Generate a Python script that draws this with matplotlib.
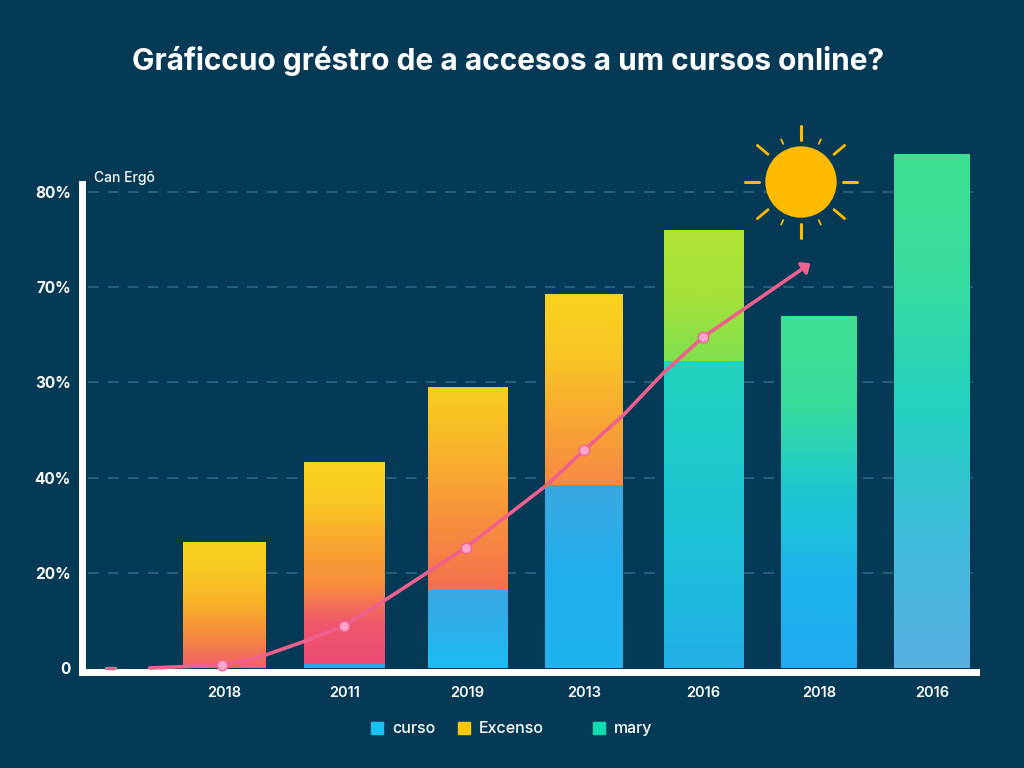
import numpy as np
import matplotlib
matplotlib.use('Agg')
import matplotlib.pyplot as plt
from matplotlib.colors import LinearSegmentedColormap
from matplotlib.patches import Circle, Rectangle

years = ['2018', '2011', '2019', '2013', '2016', '2018', '2016']
bar_pos = [0, 1.02, 2.06, 3.05, 4.06, 5.04, 6.0]
bar_width = [0.695, 0.686, 0.67, 0.66, 0.67, 0.644, 0.636]
lower_vals = [0, 0.8, 16.4, 38.5, 64.4, 74, 108]
total_vals = [26.5, 43.2, 59, 78.5, 92, 74, 108]

y_ticks = [0, 20, 40, 60, 80, 100]
y_labels = ['0', '20%', '40%', '30%', '70%', '80%']

line_x = [-0.63, -0.02, 0.28, 0.67, 1.02, 1.30, 1.69, 2.05, 2.75, 3.05, 3.38, 3.73, 4.06, 4.97]
line_y = [0, 0.6, 2.1, 5.5, 8.8, 13.2, 19.5, 25.3, 38.7, 45.7, 53, 62.1, 69.5, 85]
dot_idx = [1, 4, 7, 9, 12]

# gradient stops, bottom to top
upper_colors = [
    ['#f0606a', '#f58a3e', '#f8b02a', '#f8c824', '#f8d21e'],
    ['#ec4a74', '#f0586c', '#f78f3c', '#f8a530', '#f9c824', '#f9d31d'],
    ['#f5704f', '#f78f3d', '#f9b22d', '#f8cf20'],
    ['#f78a45', '#f8a633', '#f9c525', '#f8d21e'],
    ['#7fe04e', '#a6e23a', '#b0e234'],
    None,
    None,
]
lower_colors = [
    None,
    ['#2aa8e8', '#2aa8e8'],
    ['#1cbcf2', '#2db0ea', '#3aa8e0'],
    ['#1eb4f0', '#22b0ee', '#3aa8e0'],
    ['#22b0e8', '#1cc4d4', '#20d4bc'],
    ['#1eaaf0', '#1eb4ee', '#1cc8d0', '#38dc9c', '#40e092'],
    ['#58b0e0', '#40bcdc', '#24d0c0', '#38dca0', '#40e090'],
]

bg = '#043a56'
pink = '#f0608f'
white = '#ffffff'
sun_color = '#ffbb00'
font = ['Inter', 'DejaVu Sans']


def gradient_bar(ax, x, w, y0, y1, colors):
    bar = ax.bar(x, y1 - y0, width=w, bottom=y0, color='none', linewidth=0, zorder=2)[0]
    cmap = LinearSegmentedColormap.from_list('seg', colors)
    grad = np.linspace(0, 1, 256).reshape(-1, 1)
    im = ax.imshow(grad, cmap=cmap, origin='lower', aspect='auto', zorder=2,
                   extent=[x - w / 2, x + w / 2, y0, y1])
    im.set_clip_path(bar)


plt.rcParams['font.family'] = font
fig = plt.figure(figsize=(10.24, 7.68), dpi=100, facecolor=bg)
ax = fig.add_axes([82 / 1024, 1 - 672 / 768, (980 - 82) / 1024, (672 - 140) / 768], facecolor=bg)

for i in range(len(years)):
    if lower_colors[i] is not None and lower_vals[i] > 0:
        gradient_bar(ax, bar_pos[i], bar_width[i], 0, lower_vals[i], lower_colors[i])
    if upper_colors[i] is not None:
        gradient_bar(ax, bar_pos[i], bar_width[i], lower_vals[i], total_vals[i], upper_colors[i])

ax.set_xlim(-1.203, 6.407)
ax.set_ylim(-0.84, 110.9)

for t in y_ticks[1:]:
    ax.plot([-1.15, 6.36], [t, t], color='#2a6480', lw=1.3, dashes=(6, 5), zorder=1)

# trend line
ax.plot([-1.0, -0.92], [0, 0], color=pink, lw=2.5, zorder=3, solid_capstyle='round')
ax.plot(line_x[:-1], line_y[:-1], color=pink, lw=2.6, zorder=3, solid_capstyle='round')
ax.annotate('', xy=(line_x[-1], line_y[-1]), xytext=(line_x[-2], line_y[-2]), zorder=3,
            arrowprops=dict(arrowstyle='-|>,head_width=0.4,head_length=0.45', color=pink,
                            lw=2.6, shrinkA=0, shrinkB=0))
ax.plot([line_x[i] for i in dot_idx], [line_y[i] for i in dot_idx], 'o', ms=7.5,
        mfc='#ffa6cc', mec=pink, mew=1, zorder=4)

ax.set_xticks(bar_pos)
ax.set_xticklabels(years, fontsize=10.5, fontweight='semibold', color=white)
ax.set_yticks(y_ticks)
ax.set_yticklabels(y_labels, fontsize=11, fontweight='bold', color=white)
ax.tick_params(axis='both', length=0)
ax.tick_params(axis='x', pad=10)
ax.tick_params(axis='y', pad=8)

for side in ['top', 'right']:
    ax.spines[side].set_visible(False)
for side in ['left', 'bottom']:
    ax.spines[side].set_color(white)
    ax.spines[side].set_linewidth(5)
ax.spines['left'].set_bounds(-0.84, 101.7)
ax.spines['bottom'].set_bounds(-1.203, 6.375)

# overlay in pixel coordinates for title, sun and legend
ov = fig.add_axes([0, 0, 1, 1], facecolor='none')
ov.set_xlim(0, 1024)
ov.set_ylim(768, 0)
ov.axis('off')

ov.text(508, 61, 'Gráficcuo gréstro de a accesos a um cursos online?', color=white,
        fontsize=21.5, fontweight='bold', ha='center', va='center')
ov.text(94, 178, 'Can Ergõ', color=white, fontsize=10, fontweight='medium', ha='left', va='center')

sun_x, sun_y = 801, 182
ov.add_patch(Circle((sun_x, sun_y), 35, color=sun_color, zorder=5))
for ang in [0, 90, 180, 270]:
    a = np.radians(ang)
    ov.plot([sun_x + 42 * np.cos(a), sun_x + 56 * np.cos(a)],
            [sun_y + 42 * np.sin(a), sun_y + 56 * np.sin(a)],
            color=sun_color, lw=2.2, solid_capstyle='round', zorder=5)
for ang in [40, 140, 220, 320]:
    a = np.radians(ang)
    ov.plot([sun_x + 43 * np.cos(a), sun_x + 57 * np.cos(a)],
            [sun_y + 43 * np.sin(a), sun_y + 57 * np.sin(a)],
            color=sun_color, lw=2, solid_capstyle='round', zorder=5)
for ang in [65, 115, 245, 295]:
    a = np.radians(ang)
    ov.plot([sun_x + 42 * np.cos(a), sun_x + 47 * np.cos(a)],
            [sun_y + 42 * np.sin(a), sun_y + 47 * np.sin(a)],
            color=sun_color, lw=1.3, solid_capstyle='round', zorder=5)

legend_names = ['curso', 'Excenso', 'mary']
legend_colors = ['#18c0f4', '#fcc80c', '#10dcb0']
legend_x = [371, 458, 593]
for name, c, lx in zip(legend_names, legend_colors, legend_x):
    ov.add_patch(Rectangle((lx, 722), 12, 12, color=c))
    ov.text(lx + 21, 728.5, name, color=white, fontsize=11.5, fontweight='medium',
            ha='left', va='center')

fig.savefig('out.png', dpi=100, facecolor=bg)
